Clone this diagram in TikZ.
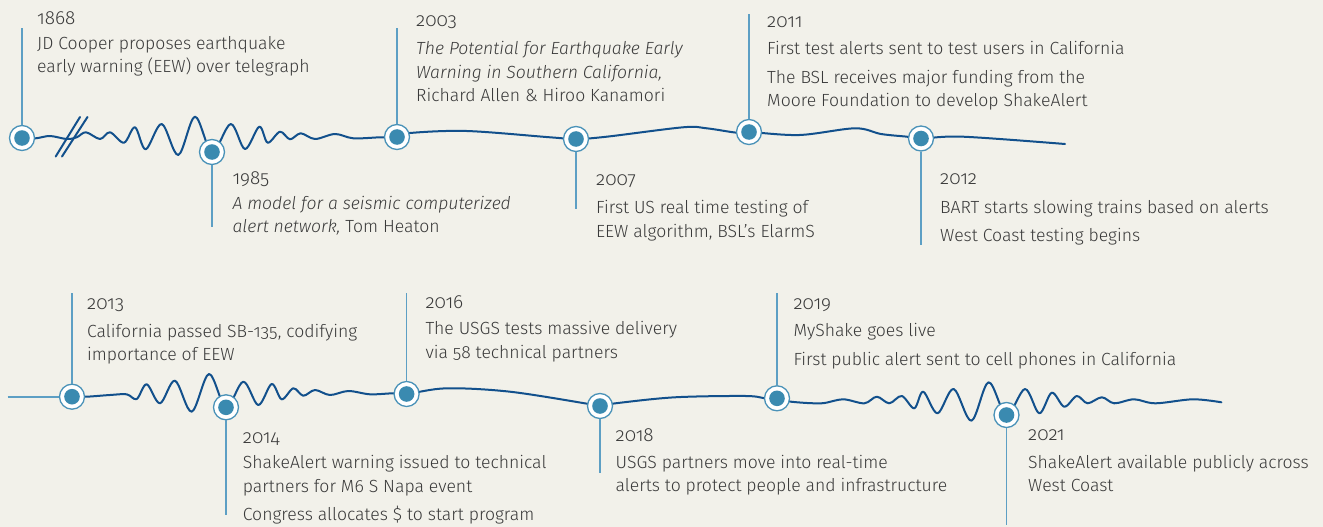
\documentclass[tikz,border=0pt]{standalone}
\usepackage{fontspec}
\setmainfont{Fira Sans}[UprightFont=* Light,ItalicFont=* Light Italic,BoldFont=*,Numbers=OldStyle]
\usepackage{xcolor}
\usetikzlibrary{positioning}
\definecolor{paper}{HTML}{F2F1EA}
\definecolor{quake}{HTML}{12508C}
\definecolor{ring}{HTML}{4A92B8}
\definecolor{dot}{HTML}{3A8AB0}
\definecolor{stem}{HTML}{5D9FC4}
\definecolor{ink}{HTML}{3A3A3A}

\begin{document}
\begin{tikzpicture}[x=1pt,y=-1pt,
   event/.style={circle,draw=ring,line width=1.3pt,fill=white,minimum size=25pt,inner sep=0pt,
      path picture={\fill[dot] (path picture bounding box.center) circle (7.8pt);}},
   wave/.style={draw=quake,line width=2pt,line join=round,line cap=round},
   stemline/.style={draw=stem,line width=1.4pt},
   year/.style={anchor=base west,inner sep=0pt,text=ink,font=\fontsize{19}{22}\selectfont},
   note/.style={anchor=base west,inner sep=0pt,text=ink,align=left,font=\fontsize{17.6}{23.4}\selectfont}]
   \fill[paper] (0,0) rectangle (1323,527);
   \useasboundingbox (0,0) rectangle (1323,527);
   % upper wave
   \draw[wave] plot[smooth,tension=0.55] coordinates {(22,138) (35.7,138.3) (50,136) (66.7,139) (76.7,137.3)
      (86,132.3) (100,139) (110,132.3) (124,142.7) (135,127.3) (145.7,149.3) (161.7,124) (178.3,155)
      (195,116.7) (212,152) (230.7,124) (245,149) (259.3,126.7) (267.7,142.7) (280,131.7) (290,139.3)
      (300.7,133.3) (315,139) (335,134) (353.3,138.3) (380,137.3) (397,137) (410,133) (466.7,131)
      (550,137.3) (576,139) (606.7,136.7) (683,127.3) (706.7,128.3) (736.7,132.7) (749,132) (799.5,135)
      (855,128.3) (881,134) (907,136.7) (921,138.5) (963,136.7) (1065,144)};
   \draw[wave] (55.7,156.5) -- (80,117);
   \draw[wave] (62,156.5) -- (87.5,117);
   % lower wave
   \draw[stemline,line width=2pt] (7.5,396.7) -- (72,396.7);
   \draw[wave] plot[smooth,tension=0.55] coordinates {(72,396.7) (86.7,396.7) (110,395) (126.7,394.3)
      (136.7,399) (146.7,384.3) (160,403.3) (175,380.7) (191.7,411.7) (209,374) (226,407.3) (243.3,381.7)
      (258.3,405) (271.7,384) (281.7,399.3) (293.3,388.3) (303.3,395.7) (315,390) (330,395) (348.3,391)
      (370,394.3) (393.3,393.3) (406.6,394) (446.7,388.3) (510,391.7) (589,404) (600,406) (615.5,403.3)
      (674.8,397.3) (745.9,396) (764.8,398.3) (777,398.3) (791,401.7) (821.4,403.3) (842.9,399.3)
      (864.3,403.3) (876.8,396.7) (889.3,403.3) (901.8,396) (914.3,408.3) (923.2,391.7) (937.5,413.3)
      (953.6,389) (971.4,420.7) (988.6,382.3) (1006.5,415) (1025,389) (1039.3,413.3) (1051.8,392.7)
      (1064.3,406.7) (1076.8,396) (1087.5,403.3) (1101.8,397.3) (1114.3,403.3) (1134,399.3)
      (1155.4,403.3) (1192.9,399.3) (1221.4,402.3)};
   % events
   \node[event] (e1868) at (22,138) {};
   \node[event] (e1985) at (212,152) {};
   \node[event] (e2003) at (397,137) {};
   \node[event] (e2007) at (576,139) {};
   \node[event] (e2011) at (749,132) {};
   \node[event] (e2012) at (921,138.5) {};
   \node[event] (e2013) at (72,396.7) {};
   \node[event] (e2014) at (226,407.3) {};
   \node[event] (e2016) at (406.6,394) {};
   \node[event] (e2018) at (600,406) {};
   \node[event] (e2019) at (777,398.3) {};
   \node[event] (e2021) at (1006.5,415) {};
   % stems
   \coordinate (s1868) at (22,28);
   \coordinate (s1985) at (212,227);
   \coordinate (s2003) at (397,28);
   \coordinate (s2007) at (576,209);
   \coordinate (s2011) at (749,14);
   \coordinate (s2012) at (921,245);
   \coordinate (s2013) at (72,293);
   \coordinate (s2014) at (226,515);
   \coordinate (s2016) at (406.6,293);
   \coordinate (s2018) at (600,473);
   \coordinate (s2019) at (777,293);
   \coordinate (s2021) at (1006.5,525);
   \foreach \y in {1868,1985,2003,2007,2011,2012,2013,2014,2016,2018,2019,2021}
      \draw[stemline] (e\y) -- (s\y);
   % texts (notes sit on their last line)
   \node[year] (y1868) at (37,25) {1868};
   \node[note] (n1868) at (37,72.7) {JD Cooper proposes earthquake\\early warning (EEW) over telegraph};
   \node[year] (y2003) at (416,26.7) {2003};
   \node[note] (n2003) at (416,101.7) {\textit{The Potential for Earthquake Early}\\\textit{Warning in Southern California,}\\Richard Allen \& Hiroo Kanamori};
   \node[year] (y2011) at (767,27.3) {2011};
   \node[note] (n2011) at (767,106.7) {First test alerts sent to test users in California\\[5.9pt]The BSL receives major funding from the\\Moore Foundation to develop ShakeAlert};
   \node[year] (y1985) at (232.3,184) {1985};
   \node[note] (n1985) at (232.3,232.7) {\textit{A model for a seismic computerized}\\\textit{alert network,} Tom Heaton};
   \node[year] (y2007) at (596,185.7) {2007};
   \node[note] (n2007) at (596,237.3) {First US real time testing of\\EEW algorithm, BSL’s ElarmS};
   \node[year] (y2012) at (940,184.3) {2012};
   \node[note] (n2012) at (940,241.7) {BART starts slowing trains based on alerts\\[5pt]West Coast testing begins};
   \node[year] (y2013) at (87,309.3) {2013};
   \node[note] (n2013) at (87,360.7) {California passed SB-135, codifying\\importance of EEW};
   \node[year] (y2014) at (242.7,443.3) {2014};
   \node[note] (n2014) at (242.7,520.7) {ShakeAlert warning issued to technical\\partners for M6 S Napa event\\[5pt]Congress allocates \$ to start program};
   \node[year] (y2016) at (425.3,308.3) {2016};
   \node[note] (n2016) at (425.3,358.3) {The USGS tests massive delivery\\via 58 technical partners};
   \node[year] (y2018) at (615.5,441.7) {2018};
   \node[note] (n2018) at (615.5,491.7) {USGS partners move into real-time\\alerts to protect people and infrastructure};
   \node[year] (y2019) at (793.3,309.3) {2019};
   \node[note] (n2019) at (793.3,365) {MyShake goes live\\[5.6pt]First public alert sent to cell phones in California};
   \node[year] (y2021) at (1028,440.7) {2021};
   \node[note] (n2021) at (1028,491.7) {ShakeAlert available publicly across\\West Coast};
\end{tikzpicture}
\end{document}
